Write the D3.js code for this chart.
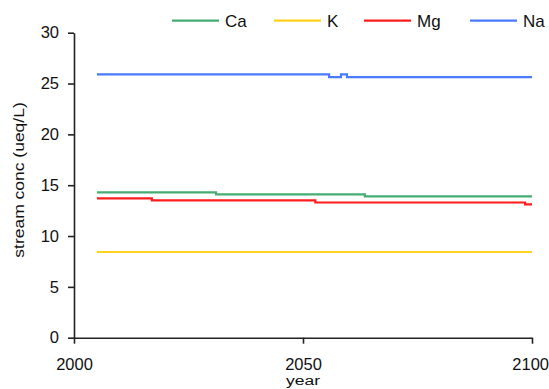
<!DOCTYPE html>
<html><head><meta charset="utf-8">
<script src="https://cdn.jsdelivr.net/npm/d3@7"></script>
<style>
html,body{margin:0;padding:0;background:#fff;}
svg{display:block;}
text{font-family:"Liberation Sans",Arial,sans-serif;fill:#111;}
</style></head>
<body>
<svg id="c" width="549" height="389"></svg>
<script>
// ---- data (step-change points) ----
const seriesNames = ["Ca", "K", "Mg", "Na"];
const seriesColors = ["#45ad74", "#ffd21f", "#ff1c1c", "#4a7bff"];
const caYears = [2005, 2031, 2063.5, 2100];
const caValues = [14.3, 14.1, 13.9, 13.9];
const kYears = [2005, 2100];
const kValues = [8.43, 8.43];
const mgYears = [2005, 2017, 2052.7, 2098.5, 2100];
const mgValues = [13.7, 13.5, 13.3, 13.12, 13.12];
const naYears = [2005, 2055.7, 2058.3, 2059.6, 2100];
const naValues = [25.9, 25.64, 25.9, 25.64, 25.64];
const yTicks = [0, 5, 10, 15, 20, 25, 30];
const xTicks = [2000, 2050, 2100];
const xTitle = "year";
const yTitle = "stream conc (ueq/L)";

const seriesData = [
  caYears.map((y, i) => ({x: y, v: caValues[i]})),
  kYears.map((y, i) => ({x: y, v: kValues[i]})),
  mgYears.map((y, i) => ({x: y, v: mgValues[i]})),
  naYears.map((y, i) => ({x: y, v: naValues[i]}))
];

const W = 549;
const svg = d3.select("#c");
const x = d3.scaleLinear().domain([2000, 2100]).range([74, 532]);
const y = d3.scaleLinear().domain([0, 30]).range([337.7, 32.7]);

// axes
const yAxis = d3.axisLeft(y).tickValues(yTicks).tickSize(6).tickSizeOuter(0).tickPadding(9);
const xAxis = d3.axisBottom(x).tickValues(xTicks).tickSize(6).tickSizeOuter(0).tickPadding(15).tickFormat(d3.format("d"));

const gy = svg.append("g").attr("transform", `translate(${x.range()[0]},0)`).call(yAxis);
const gx = svg.append("g").attr("transform", `translate(0,${y.range()[0]})`).call(xAxis);
[gy, gx].forEach(g => {
  g.select(".domain").attr("stroke", "#222").attr("stroke-width", 1.6);
  g.selectAll(".tick line").attr("stroke", "#222").attr("stroke-width", 1.6);
  g.selectAll(".tick text").attr("font-size", 16.5).attr("fill", "#111")
    .attr("font-family", '"Liberation Sans",Arial,sans-serif');
});
gx.selectAll(".tick text").attr("dy", "0").attr("y", 370 - y.range()[0]);
// keep the last label inside the picture (the reference shows it flush with the edge)
gx.selectAll(".tick").filter(d => d === xTicks[xTicks.length - 1]).select("text")
  .attr("text-anchor", "end").attr("x", W - 0.5 - x(xTicks[xTicks.length - 1]));

// lines
const line = d3.line().x(d => x(d.x)).y(d => y(d.v)).curve(d3.curveStepAfter);
seriesData.forEach((s, i) => {
  svg.append("path").datum(s).attr("d", line)
    .attr("fill", "none").attr("stroke", seriesColors[i]).attr("stroke-width", 2.2);
});

// titles
svg.append("text").attr("text-anchor", "middle").attr("font-size", 17.5)
  .attr("transform", "translate(303,385) scale(1,0.76)").text(xTitle);
svg.append("text").attr("text-anchor", "middle").attr("font-size", 17.5)
  .attr("transform", "translate(24,180) rotate(-90) scale(1,0.8)").text(yTitle);

// legend
const legendX = [172, 274, 364, 470];
const lg = svg.append("g");
seriesNames.forEach((n, i) => {
  lg.append("line").attr("x1", legendX[i]).attr("x2", legendX[i] + 47)
    .attr("y1", 20.7).attr("y2", 20.7).attr("stroke", seriesColors[i]).attr("stroke-width", 2.2);
  lg.append("text").attr("x", legendX[i] + 53).attr("y", 26.5).attr("font-size", 17).text(n);
});
</script>
</body></html>
